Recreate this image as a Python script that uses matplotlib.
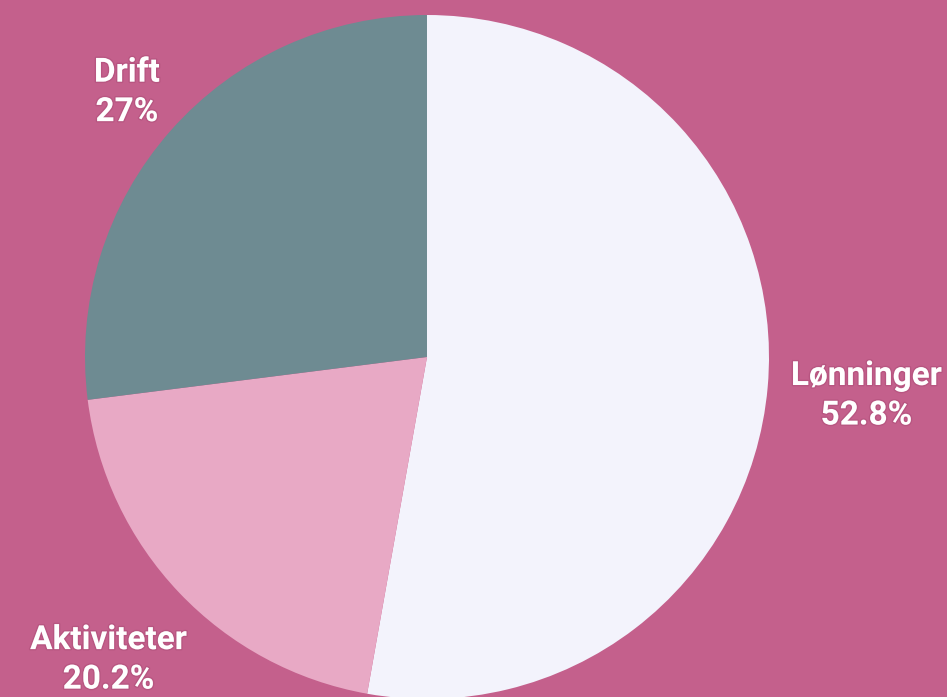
import numpy as np
import matplotlib.pyplot as plt
import matplotlib.patheffects as pe

plt.rcParams['font.family'] = ['Roboto', 'DejaVu Sans']

labels = ['Lønninger', 'Aktiviteter', 'Drift']
values = [52.8, 20.2, 27.0]
pct_text = ['52.8%', '20.2%', '27%']
colors = ['#f3f3fc', '#e8a9c5', '#6e8b92']
bg = '#c4608c'

fig = plt.figure(figsize=(9.47, 6.97), dpi=100, facecolor=bg)
ax = fig.add_axes([0, 0, 1, 1])
ax.set_facecolor(bg)

wedges, _ = ax.pie(values, colors=colors, startangle=90, counterclock=False,
                   radius=1.0, wedgeprops=dict(linewidth=0))

# label distance from centre per slice
label_dist = [1.29, 1.285, 1.17]
for w, lab, pct, d in zip(wedges, labels, pct_text, label_dist):
    ang = np.deg2rad((w.theta1 + w.theta2) / 2)
    ax.text(d * np.cos(ang), d * np.sin(ang), lab + '\n' + pct,
            ha='center', va='center', multialignment='center',
            color='white', fontsize=24, fontweight='bold', linespacing=1.3,
            path_effects=[pe.withStroke(linewidth=2, foreground='#b04f7a', alpha=0.6)])

r = 342.0
ax.set_xlim(-427 / r, (947 - 427) / r)
ax.set_ylim(-(697 - 357) / r, 357 / r)
ax.set_aspect('equal')
ax.axis('off')

plt.savefig('out.png', dpi=100, facecolor=bg)
